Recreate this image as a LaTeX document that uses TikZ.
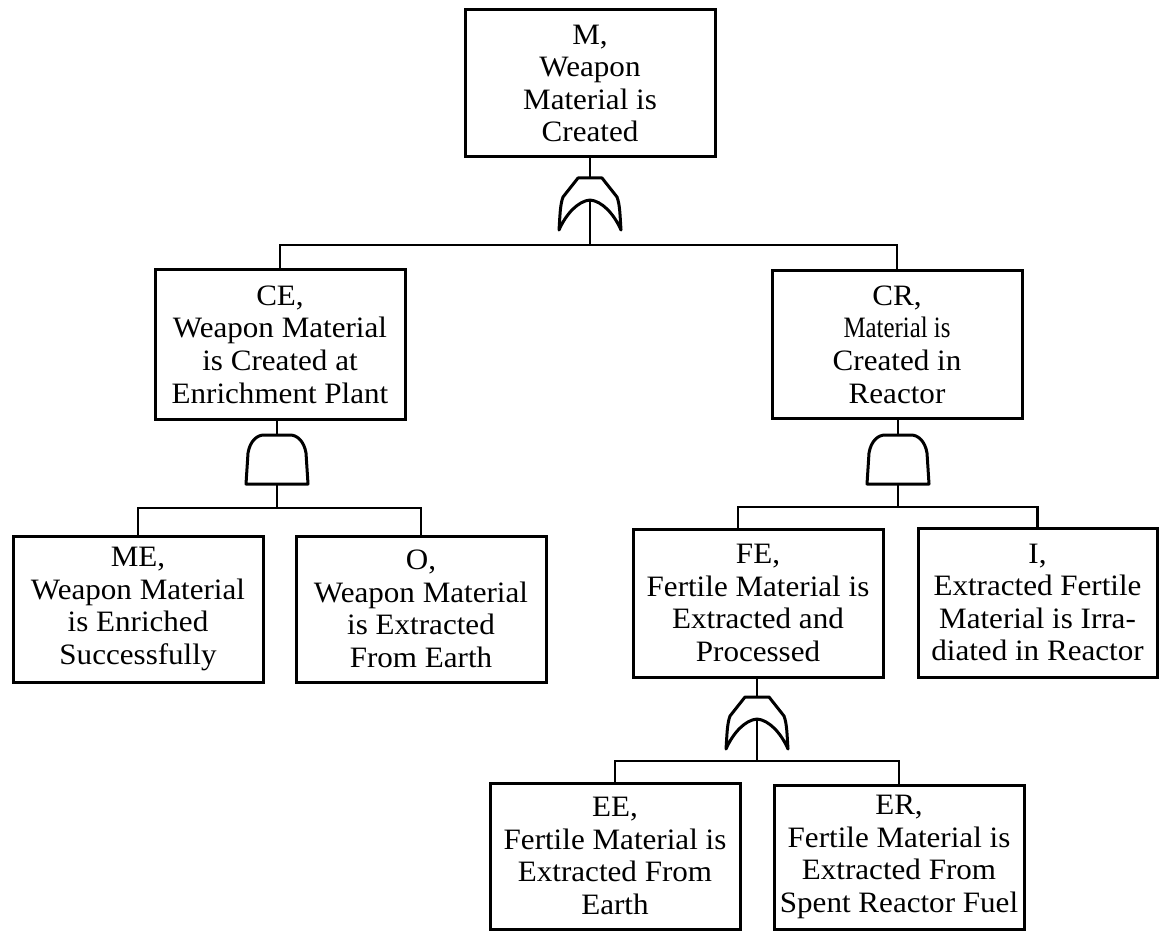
\documentclass[tikz,border=0pt]{standalone}
\usepackage{fontspec}
\usepackage{graphicx}
\setmainfont[FakeStretch=1.05]{Liberation Serif}
\usepackage{tikz}
\tikzset{
    eventbox/.style={rectangle, draw, line width=1.5pt, minimum width=125pt, minimum height=73.5pt,
        align=center, inner sep=1pt, font=\fontsize{14.8}{16.3}\selectfont},
    wire/.style={line width=1.1pt},
    gateline/.style={line width=1.5pt, line join=round},
    orgate/.pic={
        \draw[gateline] (-31,52) .. controls (-30,38) and (-30,27) .. (-27,19) -- (-12,0) -- (12,0)
            -- (27,19) .. controls (30,27) and (30,38) .. (31,52)
            .. controls (24,36) and (12,23) .. (0,22) .. controls (-12,23) and (-24,36) .. (-31,52) -- cycle;
        \coordinate (-top) at (0,0);
        \coordinate (-out) at (0,22);
    },
    andgate/.pic={
        \draw[gateline] (-31,49) -- (-29,18) .. controls (-27,6) and (-20,0) .. (-13,0) -- (13,0)
            .. controls (20,0) and (27,6) .. (29,18) -- (31,49) -- cycle;
        \coordinate (-top) at (0,0);
        \coordinate (-out) at (0,49);
    },
}

\begin{document}
\begin{tikzpicture}[x=0.5pt, y=-0.5pt]
    \useasboundingbox (0,0) rectangle (1159,930);

    \node[eventbox] (m) at (590,83.5) {M,\\Weapon\\Material is\\Created};
    \node[eventbox, minimum height=74.5pt] (ce) at (280,344.5) {CE,\\Weapon Material\\is Created at\\Enrichment Plant};
    \node[eventbox] (cr) at (897,344.5) {CR,\\\scalebox{0.8}[1]{Material is}\\Created in\\Reactor};
    \node[eventbox, minimum height=73pt] (me) at (138,609) {ME,\\Weapon Material\\is Enriched\\Successfully};
    \node[eventbox, minimum height=73pt] (o) at (421,609) {O,\\Weapon Material\\is Extracted\\From Earth};
    \node[eventbox, minimum height=74pt] (fe) at (758,603) {FE,\\Fertile Material is\\Extracted and\\Processed};
    \node[eventbox, minimum width=119.5pt, minimum height=74.5pt] (i) at (1037.5,602.5) {I,\\Extracted Fertile\\Material is Irra-\\diated in Reactor};
    \node[eventbox, minimum height=73pt] (ee) at (615,856) {EE,\\Fertile Material is\\Extracted From\\Earth};
    \node[eventbox, minimum height=72pt] (er) at (899,857) {ER,\\Fertile Material is\\Extracted From\\Spent Reactor Fuel};

    \pic (gm) at (590,178) {orgate};
    \pic (gce) at (277,435) {andgate};
    \pic (gcr) at (898,435) {andgate};
    \pic (gfe) at (757,697) {orgate};

    \coordinate (jm) at (590,245);
    \coordinate (jce) at (277,508);
    \coordinate (jcr) at (898,507);
    \coordinate (jfe) at (757,761);

    \draw[wire] (gm-top |- m.south) -- (gm-top);
    \draw[wire] (gm-out) -- (jm);
    \draw[wire] (ce.north) |- (jm) -| (cr.north);

    \draw[wire] (gce-top |- ce.south) -- (gce-top);
    \draw[wire] (gce-out) -- (jce);
    \draw[wire] (me.north) |- (jce) -| (o.north);

    \draw[wire] (gcr-top |- cr.south) -- (gcr-top);
    \draw[wire] (gcr-out) -- (jcr);
    \draw[wire] ([xshift=-10pt]fe.north) |- (jcr) -| (i.north);

    \draw[wire] (gfe-top |- fe.south) -- (gfe-top);
    \draw[wire] (gfe-out) -- (jfe);
    \draw[wire] (ee.north) |- (jfe) -| (er.north);
\end{tikzpicture}
\end{document}
